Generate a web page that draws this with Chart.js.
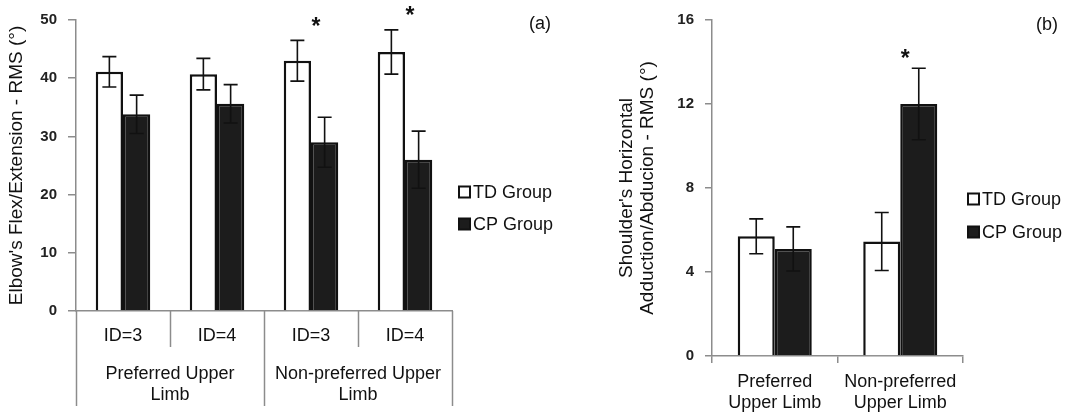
<!DOCTYPE html>
<html><head><meta charset="utf-8">
<script src="https://cdn.jsdelivr.net/npm/chart.js@4.4.0/dist/chart.umd.min.js"></script>
<style>
body{margin:0;background:#fff;width:1073px;height:414px;overflow:hidden;position:relative}
#wa{position:absolute;left:0;top:0;width:560px;height:414px}
#wb{position:absolute;left:560px;top:0;width:513px;height:414px}
</style></head><body>
<div id="wa"><canvas id="chartA"></canvas></div>
<div id="wb"><canvas id="chartB"></canvas></div>
<script>
const seriesNames = ['TD Group', 'CP Group'];

// (a) coude
const idLabels = ['ID=3', 'ID=4', 'ID=3', 'ID=4'];
const limbGroups = [['Preferred Upper', 'Limb'], ['Non-preferred Upper', 'Limb']];
const elbowTD = [41.1, 40.7, 43.0, 44.5];
const elbowTDErr = [2.6, 2.7, 3.5, 3.8];
const elbowCP = [33.8, 35.6, 29.0, 26.0];
const elbowCPErr = [3.3, 3.3, 4.3, 4.9];
const elbowSig = [false, false, true, true];
const elbowTicks = [0, 10, 20, 30, 40, 50];

// (b) épaule
const limbLabels = [['Preferred', 'Upper Limb'], ['Non-preferred', 'Upper Limb']];
const shoulderTD = [5.7, 5.45];
const shoulderTDErr = [0.83, 1.38];
const shoulderCP = [5.1, 12.0];
const shoulderCPErr = [1.05, 1.7];
const shoulderSig = [false, true];
const shoulderTicks = [0, 4, 8, 12, 16];

const FONT = "'Liberation Sans', Arial, sans-serif";
const AXIS = '#8c8c8c';
const INK = '#111';

// Barres d'erreur, astérisques, légende, panneau
const extras = {
  id: 'extras',
  afterDatasetsDraw(chart, args, o) {
    const ctx = chart.ctx, y = chart.scales.y, x = chart.scales.x;
    ctx.save();
    ctx.strokeStyle = INK;
    ctx.lineWidth = 1.6;
    const tops = [];
    chart.data.datasets.forEach((ds, i) => {
      chart.getDatasetMeta(i).data.forEach((bar, j) => {
        const v = ds.data[j], e = ds.err[j];
        const t = y.getPixelForValue(v + e), b = y.getPixelForValue(v - e);
        tops[j] = Math.min(tops[j] ?? 1e9, t);
        ctx.beginPath();
        ctx.moveTo(bar.x, t); ctx.lineTo(bar.x, b);
        ctx.moveTo(bar.x - o.cap, t); ctx.lineTo(bar.x + o.cap, t);
        ctx.moveTo(bar.x - o.cap, b); ctx.lineTo(bar.x + o.cap, b);
        ctx.stroke();
      });
    });
    ctx.fillStyle = INK;
    ctx.font = 'bold 23px ' + FONT;
    ctx.textAlign = 'center';
    ctx.textBaseline = 'middle';
    o.sig.forEach((s, j) => {
      if (s) ctx.fillText('*', x.getPixelForValue(j) + 5, tops[j] - o.starGap);
    });
    // légende
    ctx.font = '18px ' + FONT;
    ctx.textAlign = 'left';
    chart.data.datasets.forEach((ds, i) => {
      const ly = o.legendY + i * o.legendStep;
      ctx.fillStyle = ds.backgroundColor;
      ctx.fillRect(o.legendX, ly - 5.5, 11, 11);
      ctx.lineWidth = 2;
      ctx.strokeStyle = INK;
      ctx.strokeRect(o.legendX, ly - 5.5, 11, 11);
      ctx.fillStyle = INK;
      ctx.fillText(ds.label, o.legendX + 14, ly + 1);
    });
    ctx.font = '18px ' + FONT;
    ctx.textAlign = 'center';
    ctx.fillText(o.panel, o.panelX, o.panelY);
    ctx.restore();
  }
};

// Axe x à deux niveaux pour (a)
const twoLevelAxis = {
  id: 'twoLevelAxis',
  afterDraw(chart) {
    const ctx = chart.ctx, x = chart.scales.x, base = chart.chartArea.bottom;
    const n = idLabels.length;
    const edge = i => i === 0 ? x.left : i === n ? x.right
      : (x.getPixelForValue(i - 1) + x.getPixelForValue(i)) / 2;
    ctx.save();
    ctx.strokeStyle = AXIS;
    ctx.lineWidth = 1.5;
    for (let i = 0; i <= n; i++) {
      const px = Math.round(edge(i)) + 0.5;
      ctx.beginPath();
      ctx.moveTo(px, base);
      ctx.lineTo(px, i % 2 === 0 ? base + 95 : base + 36);
      ctx.stroke();
    }
    ctx.fillStyle = INK;
    ctx.font = '18px ' + FONT;
    ctx.textAlign = 'center';
    ctx.textBaseline = 'middle';
    idLabels.forEach((l, i) => ctx.fillText(l, x.getPixelForValue(i), base + 25));
    limbGroups.forEach((g, k) => {
      const cx = (edge(2 * k) + edge(2 * k + 2)) / 2;
      g.forEach((line, m) => ctx.fillText(line, cx, base + 63 + m * 21));
    });
    ctx.restore();
  }
};

function yScale(ticks, title, width, tickLen, titlePad) {
  return {
    min: ticks[0],
    max: ticks[ticks.length - 1],
    afterBuildTicks: s => { s.ticks = ticks.map(v => ({ value: v })); },
    afterFit: s => { s.width = width; },
    border: { color: AXIS, width: 1.5 },
    grid: { drawOnChartArea: false, drawTicks: true, tickLength: tickLen, color: AXIS, lineWidth: 1.5 },
    ticks: { color: '#222', padding: 11, font: { family: FONT, size: 15, weight: 'bold' } },
    title: { display: true, text: title, color: INK, padding: { top: titlePad, bottom: 0 }, font: { family: FONT, size: 19, lineHeight: 1.08 } }
  };
}

function bars(td, tdErr, cp, cpErr) {
  return [
    { label: seriesNames[0], data: td, err: tdErr, backgroundColor: '#ffffff', borderColor: INK, borderWidth: 2.5 },
    { label: seriesNames[1], data: cp, err: cpErr, backgroundColor: '#1c1c1c', borderColor: INK, borderWidth: 2.5 }
  ];
}

const common = {
  responsive: true,
  maintainAspectRatio: false,
  animation: false,
  plugins: { legend: { display: false }, tooltip: { enabled: false } }
};

new Chart(document.getElementById('chartA'), {
  type: 'bar',
  data: { labels: idLabels, datasets: bars(elbowTD, elbowTDErr, elbowCP, elbowCPErr) },
  options: {
    ...common,
    categoryPercentage: 0.58,
    barPercentage: 1.0,
    layout: { padding: { top: 20, right: 108, left: 0, bottom: 0 } },
    plugins: {
      ...common.plugins,
      extras: { cap: 7, sig: elbowSig, starGap: 13, legendX: 459, legendY: 192, legendStep: 32, panel: '(a)', panelX: 540, panelY: 24 }
    },
    scales: {
      x: {
        afterFit: s => { s.height = 103; },
        border: { color: AXIS, width: 1.5 },
        grid: { display: false },
        ticks: { display: false }
      },
      y: yScale(elbowTicks, "Elbow's Flex/Extension - RMS (°)", 76, 8, 7)
    }
  },
  plugins: [extras, twoLevelAxis]
});

new Chart(document.getElementById('chartB'), {
  type: 'bar',
  data: { labels: limbLabels, datasets: bars(shoulderTD, shoulderTDErr, shoulderCP, shoulderCPErr) },
  options: {
    ...common,
    categoryPercentage: 0.59,
    barPercentage: 1.0,
    layout: { padding: { top: 15, right: 110, left: 0, bottom: 0 } },
    plugins: {
      ...common.plugins,
      extras: { cap: 7, sig: shoulderSig, starGap: 9, legendX: 408, legendY: 199, legendStep: 33, panel: '(b)', panelX: 487, panelY: 25 }
    },
    scales: {
      x: {
        afterFit: s => { s.height = 58; },
        border: { color: AXIS, width: 1.5 },
        grid: { drawOnChartArea: false, drawTicks: true, tickLength: 7, color: AXIS, lineWidth: 1.5 },
        ticks: { color: INK, padding: 9, maxRotation: 0, font: { family: FONT, size: 18, lineHeight: 1.15 } }
      },
      y: yScale(shoulderTicks, ["Shoulder's Horizontal", 'Adduction/Abducion - RMS (°)'], 152, 7, 57)
    }
  },
  plugins: [extras]
});
</script>
</body></html>
